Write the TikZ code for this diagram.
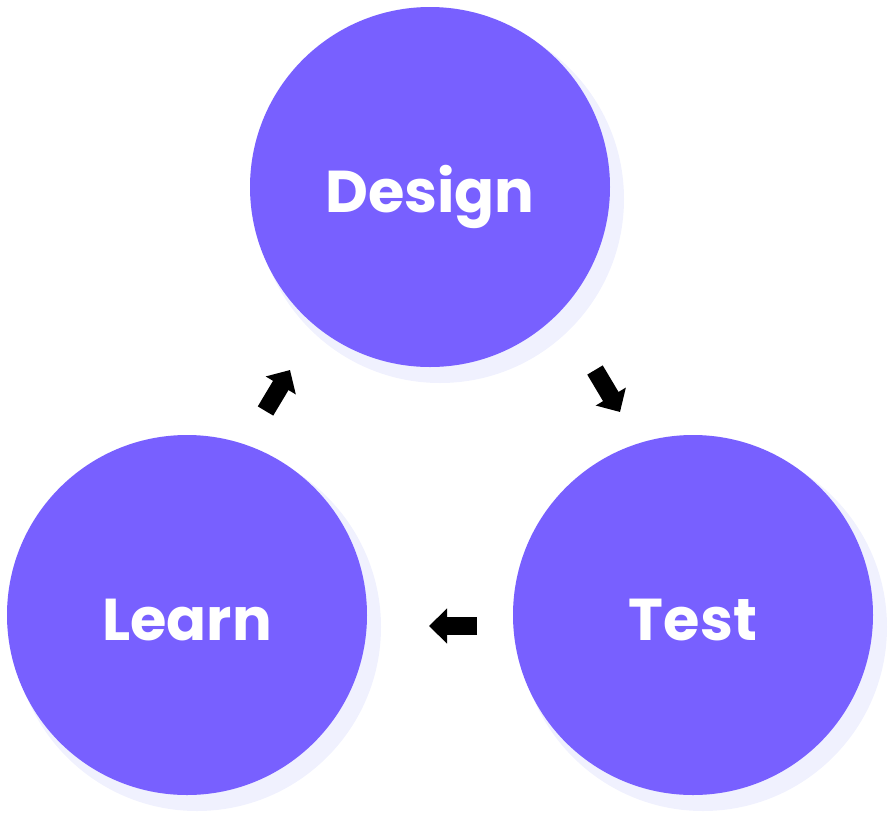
\documentclass[tikz,border=0pt]{standalone}
\usepackage{fontspec}
\setmainfont{Poppins}
\usetikzlibrary{positioning, arrows.meta, calc}
\definecolor{stagefill}{RGB}{120,96,255}
\definecolor{stageshade}{RGB}{240,241,254}

\begin{document}
\begin{tikzpicture}[x=1pt, y=-1pt,
		stage/.style={circle, fill=stagefill, inner sep=0pt, minimum size=360pt,
			text=white, text height=50pt, text depth=0pt,
			font=\fontsize{59}{66}\selectfont\bfseries},
		shade/.style={fill=stageshade},
		step arrow/.style={line width=18pt, -{Triangle[length=18pt, width=34pt]}}]

		\useasboundingbox (0,0) rectangle (895,823);

		\coordinate (c-design) at (430,187);
		\coordinate (c-learn) at (187,615);
		\coordinate (c-test) at (693,615);

		% shadows
		\fill[shade] ($(c-design)+(10,12)$) circle (184pt);
		\fill[shade] ($(c-learn)+(10,12)$) circle (184pt);
		\fill[shade] ($(c-test)+(10,12)$) circle (184pt);

		\node[stage] (design) at (c-design) {Design};
		\node[stage] (learn) at (c-learn) {Learn};
		\node[stage] (test) at (c-test) {Test};

		\coordinate (a1) at (595,370);
		\coordinate (b1) at (620,412);
		\coordinate (a2) at (477,626);
		\coordinate (b2) at (429,626);
		\coordinate (a3) at (265.5,411);
		\coordinate (b3) at (290,370);

		\draw[step arrow] (a1) -- (b1);
		\draw[step arrow] (a2) -- (b2);
		\draw[step arrow] (a3) -- (b3);
\end{tikzpicture}
\end{document}
